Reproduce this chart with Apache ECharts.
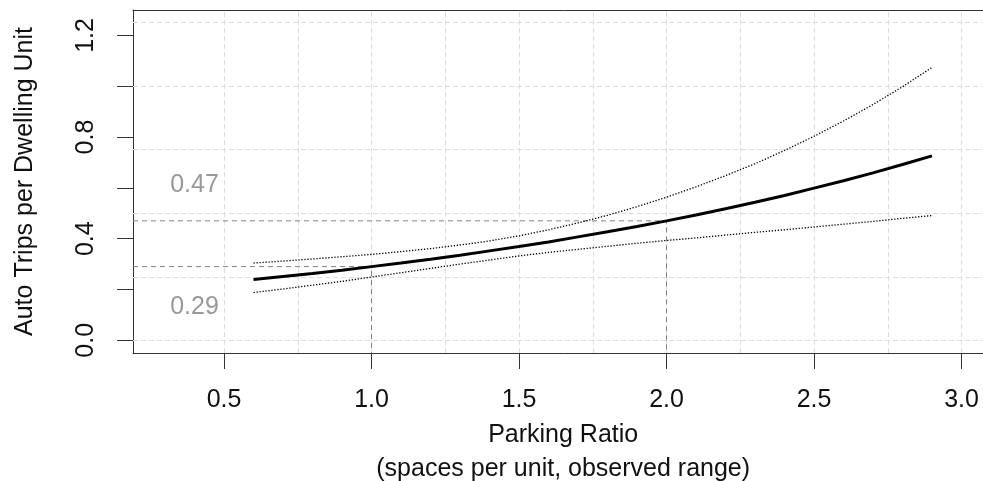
<!DOCTYPE html>
<html>
<head>
<meta charset="utf-8">
<title>Auto Trips per Dwelling Unit vs Parking Ratio</title>
<script src="https://cdn.jsdelivr.net/npm/echarts@6/dist/echarts.min.js"></script>
<style>
  html, body { margin: 0; padding: 0; background: #ffffff; overflow: hidden; }
  /* the plot box runs a little past the right edge of the page */
  #chart { width: 1000px; height: 481px; }
</style>
</head>
<body>
<div id="chart"></div>
<script>
// Parking ratio (spaces per unit) over the observed range
const parkingRatio = [0.6, 0.7, 0.8, 0.9, 1.0, 1.1, 1.2, 1.3, 1.4, 1.5, 1.6, 1.7,
                      1.8, 1.9, 2.0, 2.1, 2.2, 2.3, 2.4, 2.5, 2.6, 2.7, 2.8, 2.9];
// Predicted auto trips per dwelling unit
const tripsFit = [0.239, 0.251, 0.263, 0.276, 0.290, 0.304, 0.319, 0.335, 0.352, 0.369, 0.387, 0.407,
                  0.427, 0.448, 0.470, 0.493, 0.518, 0.543, 0.570, 0.599, 0.628, 0.659, 0.692, 0.726];
// Upper and lower confidence bounds
const tripsUpper = [0.304, 0.312, 0.320, 0.329, 0.338, 0.349, 0.361, 0.375, 0.391, 0.411, 0.435, 0.462,
                    0.492, 0.526, 0.563, 0.604, 0.648, 0.695, 0.747, 0.803, 0.863, 0.928, 0.998, 1.074];
const tripsLower = [0.188, 0.202, 0.217, 0.232, 0.249, 0.266, 0.283, 0.300, 0.316, 0.332, 0.346, 0.358,
                    0.370, 0.382, 0.393, 0.403, 0.414, 0.425, 0.435, 0.446, 0.457, 0.468, 0.480, 0.491];
// Highlighted readings: parking ratio -> trips
const refRatio = [1.0, 2.0];
const refTrips = [0.29, 0.47];
// Axis ticks and labels
const xTicks = [0.5, 1.0, 1.5, 2.0, 2.5, 3.0];
const yTicks = [0.0, 0.2, 0.4, 0.6, 0.8, 1.0, 1.2];
const yLabels = [0.0, 0.4, 0.8, 1.2];
// Background grid positions
const xGrid = [0.5, 0.75, 1.0, 1.25, 1.5, 1.75, 2.0, 2.25, 2.5, 2.75, 3.0];
const yGrid = [0.0, 0.25, 0.5, 0.75, 1.0, 1.25];

// ---- layout ----
const X_MIN = 0.1915, X_MAX = 3.108;
const Y_MIN = -0.05, Y_MAX = 1.30;
const PX_PER_X = 295;            // horizontal scale of the plot box
const NOTE_X = 0.4;              // x position of the value notes
const NOTE_Y = [0.13, 0.61];     // y positions of the value notes
const FONT = "'Liberation Sans', Arial, sans-serif";
const FS = 25;
const AXIS_COLOR = '#333333';

const pairs = (ys) => parkingRatio.map((x, i) => [x, ys[i]]);

const chart = echarts.init(document.getElementById('chart'), null, { renderer: 'canvas' });

const series = [
  {
    // background grid, kept underneath everything else
    type: 'line',
    data: [[X_MIN, Y_MIN]],
    symbol: 'none',
    lineStyle: { opacity: 0 },
    silent: true,
    z: 1,
    markLine: {
      z: 1,
      silent: true,
      symbol: ['none', 'none'],
      label: { show: false },
      lineStyle: { color: '#dddddd', type: [5, 3], width: 1 },
      data: xGrid.map(v => ({ xAxis: v })).concat(yGrid.map(v => ({ yAxis: v })))
    }
  }
];

refRatio.forEach((rx, i) => {
  series.push({
    type: 'line',
    data: [[X_MIN, refTrips[i]], [rx, refTrips[i]], [rx, Y_MIN]],
    symbol: 'none',
    silent: true,
    z: 10,
    lineStyle: { color: '#808080', width: 1, type: [5, 4] }
  });
});

const ciStyle = { color: '#000000', width: 1.3, type: [1.3, 1.7] };

series.push(
  {
    type: 'line',
    data: pairs(tripsUpper),
    symbol: 'none',
    silent: true,
    z: 11,
    lineStyle: ciStyle
  },
  {
    type: 'line',
    data: pairs(tripsLower),
    symbol: 'none',
    silent: true,
    z: 11,
    lineStyle: ciStyle
  },
  {
    type: 'line',
    data: pairs(tripsFit),
    symbol: 'none',
    silent: true,
    z: 12,
    lineStyle: { color: '#000000', width: 3 }
  },
  {
    // value notes
    type: 'scatter',
    data: refTrips.map((v, i) => [NOTE_X, NOTE_Y[i], v]),
    symbolSize: 0,
    silent: true,
    z: 13,
    label: {
      show: true,
      position: 'inside',
      formatter: p => p.value[2].toFixed(2),
      color: '#808080',
      fontSize: FS,
      fontFamily: FONT
    }
  }
);

chart.setOption({
  animation: false,
  backgroundColor: '#ffffff',
  grid: {
    left: 133, top: 10, bottom: 128,
    width: (X_MAX - X_MIN) * PX_PER_X,
    containLabel: false,
    outerBoundsMode: 'none'
  },
  xAxis: [
    {
      type: 'value',
      min: X_MIN, max: X_MAX,
      name: 'Parking Ratio\n(spaces per unit, observed range)',
      nameLocation: 'middle',
      nameGap: 62,
      nameTextStyle: { fontSize: FS, lineHeight: 34, color: '#111111', fontFamily: FONT },
      axisLine: { show: true, onZero: false, lineStyle: { color: AXIS_COLOR, width: 1 } },
      axisTick: { show: true, length: 16, lineStyle: { color: AXIS_COLOR }, customValues: xTicks },
      axisLabel: {
        show: true, margin: 35, fontSize: FS, color: '#111111', fontFamily: FONT,
        customValues: xTicks,
        formatter: v => v.toFixed(1)
      },
      splitLine: { show: false }
    },
    {
      // top edge of the plot box
      type: 'value',
      position: 'top',
      min: X_MIN, max: X_MAX,
      axisLine: { show: true, onZero: false, lineStyle: { color: AXIS_COLOR, width: 1 } },
      axisTick: { show: false },
      axisLabel: { show: false },
      splitLine: { show: false }
    }
  ],
  yAxis: {
    type: 'value',
    min: Y_MIN, max: Y_MAX,
    name: 'Auto Trips per Dwelling Unit',
    nameLocation: 'middle',
    nameGap: 95,
    nameTextStyle: { fontSize: FS, color: '#111111', fontFamily: FONT },
    axisLine: { show: true, onZero: false, lineStyle: { color: AXIS_COLOR, width: 1 } },
    axisTick: { show: true, length: 16, lineStyle: { color: AXIS_COLOR }, customValues: yTicks },
    axisLabel: {
      show: true, margin: 34, rotate: 90, fontSize: FS, color: '#111111', fontFamily: FONT,
      customValues: yLabels,
      formatter: v => v.toFixed(1)
    },
    splitLine: { show: false }
  },
  series: series
});
</script>
</body>
</html>
